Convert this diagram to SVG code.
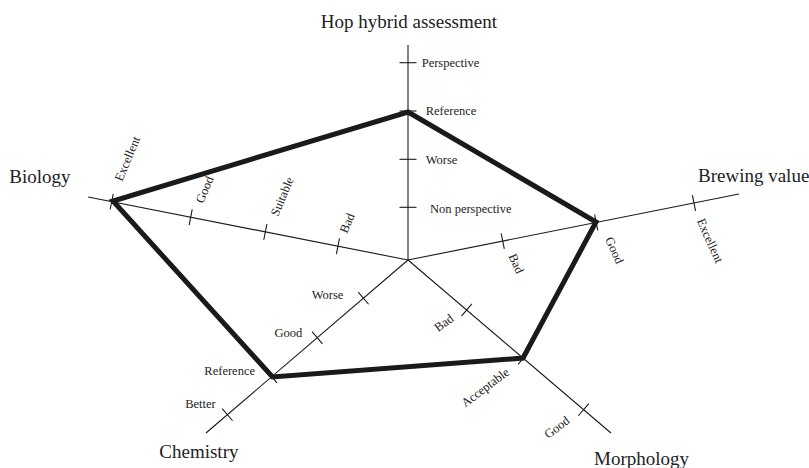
<svg xmlns="http://www.w3.org/2000/svg" width="809" height="468" viewBox="0 0 809 468">
<style>
.axis{stroke:#1a1a1a;stroke-width:1.1;fill:none}
.tick{stroke:#1a1a1a;stroke-width:1.1}
.poly{stroke:#1a1a1a;stroke-width:5;fill:none;stroke-linejoin:miter}
.lbl{font-family:"Liberation Serif",serif;font-size:12.5px;fill:#222}
.big{font-family:"Liberation Serif",serif;font-size:19px;fill:#222}
</style>
<rect width="809" height="468" fill="#fff"/>
<g id="connectors">
  <g id="axis-hop" transform="translate(408,260) rotate(-90)">
    <line class="axis" x1="0" y1="0" x2="215" y2="0"/>
    <line class="tick" x1="52.7" y1="-8.5" x2="52.7" y2="8.5"/>
    <line class="tick" x1="100.7" y1="-8.5" x2="100.7" y2="8.5"/>
    <line class="tick" x1="149" y1="-8.5" x2="149" y2="8.5"/>
    <line class="tick" x1="197.3" y1="-8.5" x2="197.3" y2="8.5"/>
  </g>
  <g id="axis-biology" transform="translate(408,260) rotate(191.14)">
    <line class="axis" x1="0" y1="0" x2="326" y2="0"/>
    <line class="tick" x1="71.4" y1="-8" x2="71.4" y2="8"/>
    <line class="tick" x1="145.4" y1="-8" x2="145.4" y2="8"/>
    <line class="tick" x1="221.5" y1="-8" x2="221.5" y2="8"/>
    <line class="tick" x1="302" y1="-8" x2="302" y2="8"/>
  </g>
  <g id="axis-brewing" transform="translate(408,260) rotate(-11.28)">
    <line class="axis" x1="0" y1="0" x2="337.5" y2="0"/>
    <line class="tick" x1="96.6" y1="-8" x2="96.6" y2="8"/>
    <line class="tick" x1="191.9" y1="-8" x2="191.9" y2="8"/>
    <line class="tick" x1="291.6" y1="-8" x2="291.6" y2="8"/>
  </g>
  <g id="axis-chemistry" transform="translate(408,260) rotate(139.42)">
    <line class="axis" x1="0" y1="0" x2="266" y2="0"/>
    <line class="tick" x1="58.7" y1="-8" x2="58.7" y2="8"/>
    <line class="tick" x1="119.5" y1="-8" x2="119.5" y2="8"/>
    <line class="tick" x1="179.4" y1="-8" x2="179.4" y2="8"/>
    <line class="tick" x1="237.8" y1="-8" x2="237.8" y2="8"/>
  </g>
  <g id="axis-morphology" transform="translate(408,260) rotate(40.44)">
    <line class="axis" x1="0" y1="0" x2="266.7" y2="0"/>
    <line class="tick" x1="77.1" y1="-8" x2="77.1" y2="8"/>
    <line class="tick" x1="151.5" y1="-8" x2="151.5" y2="8"/>
    <line class="tick" x1="230.7" y1="-8" x2="230.7" y2="8"/>
  </g>
</g>
<g id="node-hop">
  <text class="big" x="408.8" y="28.3" text-anchor="middle">Hop hybrid assessment</text>
  <text class="lbl" x="421.7" y="66.7">Perspective</text>
  <text class="lbl" x="425.7" y="115">Reference</text>
  <text class="lbl" x="425.7" y="164">Worse</text>
  <text class="lbl" x="430" y="213">Non perspective</text>
</g>
<g id="node-biology">
  <text class="big" x="9.3" y="183">Biology</text>
  <text class="lbl" transform="translate(122,182) rotate(-67)">Excellent</text>
  <text class="lbl" transform="translate(203,204) rotate(-67)">Good</text>
  <text class="lbl" transform="translate(278,217) rotate(-67)">Suitable</text>
  <text class="lbl" transform="translate(347,234) rotate(-67)">Bad</text>
</g>
<g id="node-brewing">
  <text class="big" x="698" y="181.5">Brewing value</text>
  <text class="lbl" transform="translate(508.3,256) rotate(66)">Bad</text>
  <text class="lbl" transform="translate(605,239.3) rotate(66)">Good</text>
  <text class="lbl" transform="translate(696.7,220.7) rotate(66)">Excellent</text>
</g>
<g id="node-chemistry">
  <text class="big" x="159.3" y="457.5">Chemistry</text>
  <text class="lbl" x="343.3" y="299" text-anchor="end">Worse</text>
  <text class="lbl" x="302.3" y="337.3" text-anchor="end">Good</text>
  <text class="lbl" x="255" y="375" text-anchor="end">Reference</text>
  <text class="lbl" x="215.7" y="408.3" text-anchor="end">Better</text>
</g>
<g id="node-morphology">
  <text class="big" x="594" y="465">Morphology</text>
  <text class="lbl" transform="translate(446.4,326.2) rotate(-37)" text-anchor="middle">Bad</text>
  <text class="lbl" transform="translate(487.7,390.7) rotate(-37)" text-anchor="middle">Acceptable</text>
  <text class="lbl" transform="translate(559.4,430.7) rotate(-37)" text-anchor="middle">Good</text>
</g>
<g id="assessment-polygon">
  <polygon class="poly" points="408,112 596,222 523,358 272.5,377 113,201"/>
</g>
</svg>
